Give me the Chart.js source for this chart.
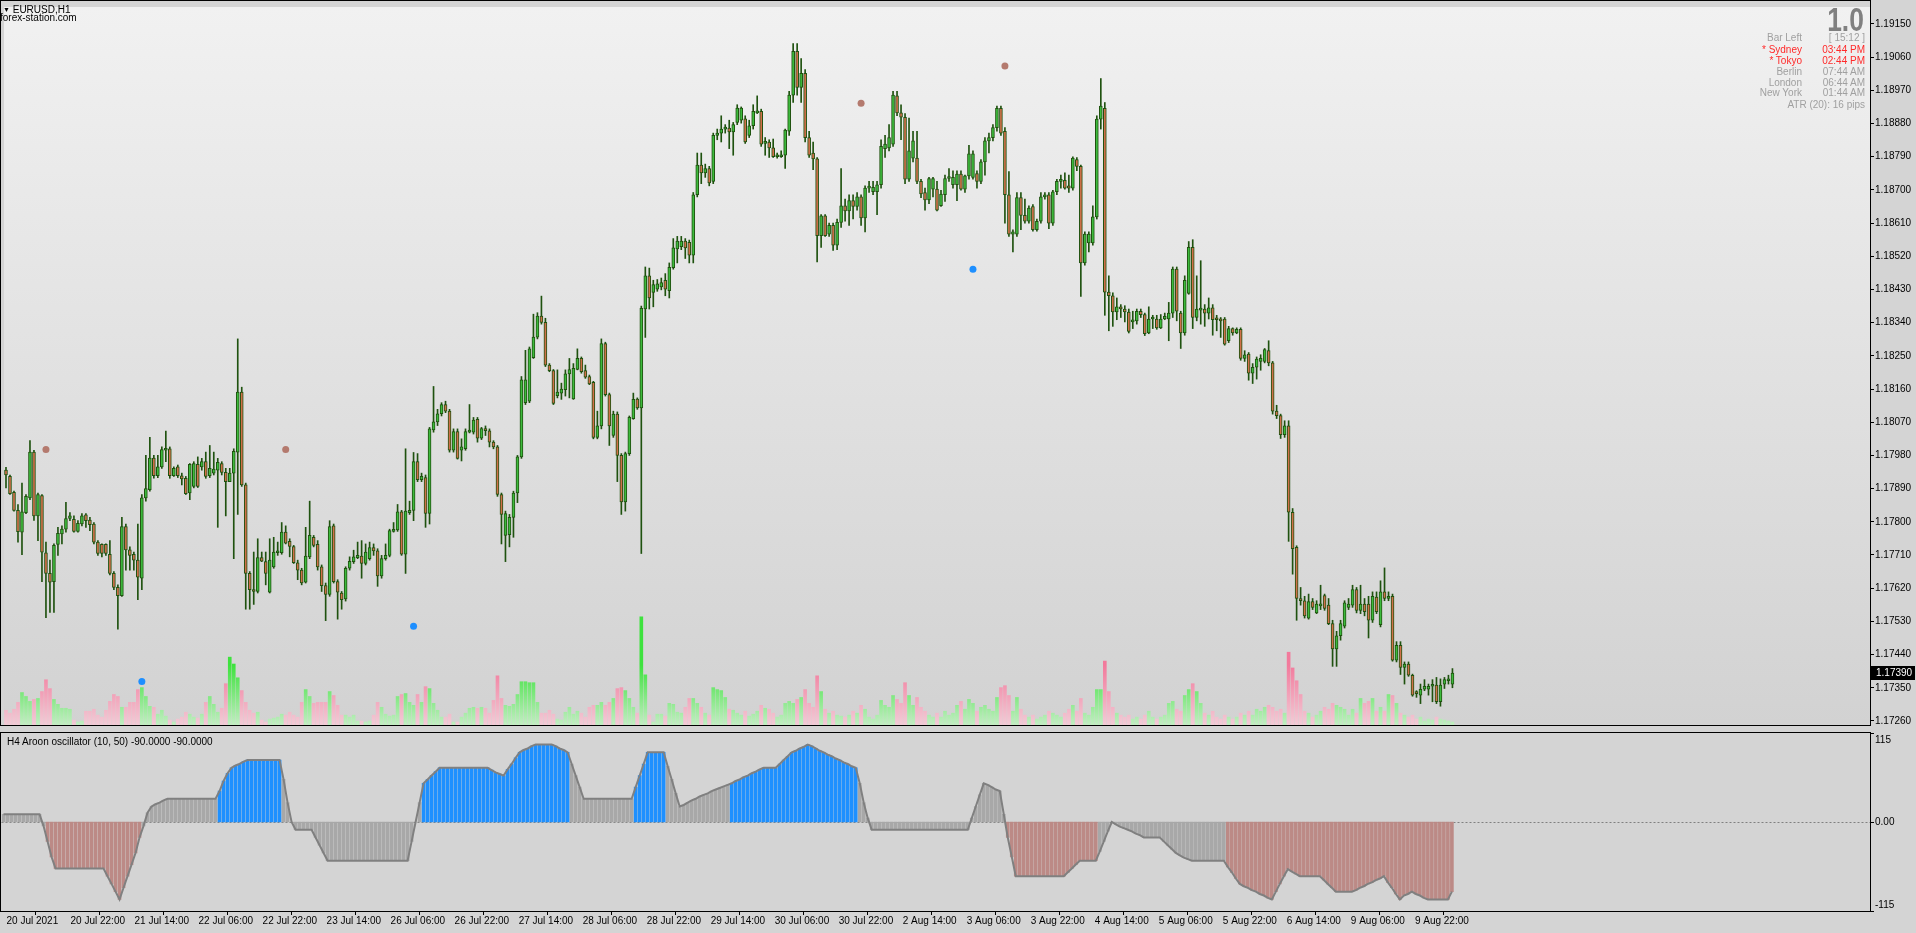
<!DOCTYPE html>
<html>
<head>
<meta charset="utf-8">
<title>EURUSD,H1</title>
<script src="https://cdn.jsdelivr.net/npm/chart.js@4.4.1/dist/chart.umd.min.js"></script>
<style>
  body { margin:0; width:1916px; height:933px; overflow:hidden; position:relative; background:#d4d4d4;
         font-family:"Liberation Sans", Arial, sans-serif; }
  canvas { position:absolute; left:0; }
  #main { top:0; }
  #osc { top:732px; }
  .t { position:absolute; font-size:10px; line-height:12px; white-space:nowrap; z-index:2; }
  .g { color:#a0a0a0; }
  .r { color:#ff2a2a; }
  .lab { right:114px; text-align:right; }
  .val { right:51px; text-align:right; }
</style>
</head>
<body>
<canvas id="main" width="1916" height="732"></canvas>
<canvas id="osc" width="1916" height="201"></canvas>

<div class="t" style="left:3px;top:4px;color:#000"><span style="font-size:7px;vertical-align:1px">&#9660;</span> EURUSD,H1</div>
<div class="t" style="left:0px;top:12px;color:#000">forex-station.com</div>

<div class="t" style="right:52px;top:3px;font-size:33px;line-height:33px;font-weight:bold;color:#808080;transform:scaleX(0.8);transform-origin:right">1.0</div>
<div class="t g lab" style="top:32px">Bar Left</div>
<div class="t g val" style="top:32px">[ 15:12 ]</div>
<div class="t r lab" style="top:44px">* Sydney</div>
<div class="t r val" style="top:44px">03:44 PM</div>
<div class="t r lab" style="top:55px">* Tokyo</div>
<div class="t r val" style="top:55px">02:44 PM</div>
<div class="t g lab" style="top:66px">Berlin</div>
<div class="t g val" style="top:66px">07:44 AM</div>
<div class="t g lab" style="top:77px">London</div>
<div class="t g val" style="top:77px">06:44 AM</div>
<div class="t g lab" style="top:87px">New York</div>
<div class="t g val" style="top:87px">01:44 AM</div>
<div class="t g val" style="top:99px">ATR (20): 16 pips</div>

<div class="t" style="left:7px;top:736px;color:#000">H4 Aroon oscillator (10, 50) -90.0000 -90.0000</div>

<script>
// EURUSD H1 bars, 20 Jul 2021 06:00 onwards
const opens = [
1.17940,1.17923,1.17880,1.17831,1.17772,1.17825,1.17865,1.17989,1.17816,1.17871,
1.17716,1.17660,1.17638,1.17739,1.17767,1.17780,1.17809,1.17807,1.17774,1.17794,
1.17819,1.17805,1.17794,1.17745,1.17739,1.17739,1.17712,1.17660,1.17622,1.17600,
1.17787,1.17724,1.17712,1.17696,1.17647,1.17865,1.17887,1.17973,1.17925,1.17949,
1.17994,1.17998,1.17925,1.17949,1.17925,1.17918,1.17878,1.17896,1.17956,1.17949,
1.17963,1.17925,1.17932,1.17940,1.17958,1.17934,1.17909,1.17932,1.17989,1.18152,
1.17900,1.17660,1.17616,1.17611,1.17703,1.17692,1.17609,1.17678,1.17716,1.17716,
1.17772,1.17747,1.17733,1.17689,1.17669,1.17636,1.17705,1.17758,1.17739,1.17678,
1.17627,1.17603,1.17789,1.17638,1.17607,1.17591,1.17674,1.17692,1.17703,1.17707,
1.17687,1.17700,1.17730,1.17721,1.17653,1.17700,1.17709,1.17774,1.17778,1.17827,
1.17712,1.17825,1.17831,1.17963,1.17914,1.17920,1.17823,1.18049,1.18071,1.18093,
1.18118,1.18100,1.17994,1.18045,1.17994,1.17998,1.18043,1.18043,1.18078,1.18027,
1.18053,1.18047,1.18016,1.18003,1.17874,1.17763,1.17765,1.17812,1.17878,1.17976,
1.18123,1.18127,1.18245,1.18301,1.18358,1.18341,1.18225,1.18210,1.18142,1.18149,
1.18158,1.18201,1.18133,1.18213,1.18243,1.18210,1.18194,1.18178,1.18029,1.18060,
1.18283,1.18145,1.18034,1.18092,1.17980,1.17854,1.17985,1.18080,1.18133,1.18109,
1.18377,1.18467,1.18422,1.18431,1.18437,1.18455,1.18427,1.18489,1.18540,1.18546,
1.18561,1.18558,1.18523,1.18687,1.18767,1.18746,1.18758,1.18723,1.18848,1.18854,
1.18865,1.18868,1.18857,1.18883,1.18889,1.18893,1.18848,1.18874,1.18909,1.18913,
1.18826,1.18830,1.18814,1.18790,1.18790,1.18794,1.18859,1.18957,1.19076,1.18978,
1.19016,1.18842,1.18800,1.18784,1.18576,1.18630,1.18580,1.18604,1.18550,1.18612,
1.18657,1.18643,1.18671,1.18655,1.18681,1.18624,1.18705,1.18695,1.18695,1.18714,
1.18812,1.18814,1.18824,1.18955,1.18909,1.18897,1.18729,1.18786,1.18786,1.18723,
1.18693,1.18673,1.18702,1.18702,1.18657,1.18687,1.18731,1.18714,1.18714,1.18743,
1.18702,1.18738,1.18734,1.18744,1.18723,1.18776,1.18833,1.18842,1.18869,1.18921,
1.18859,1.18687,1.18580,1.18580,1.18679,1.18631,1.18615,1.18655,1.18592,1.18615,
1.18681,1.18687,1.18610,1.18695,1.18723,1.18726,1.18711,1.18705,1.18782,1.18764,
1.18502,1.18556,1.18556,1.18627,1.18892,1.18921,1.18423,1.18413,1.18369,1.18383,
1.18377,1.18369,1.18342,1.18345,1.18371,1.18362,1.18312,1.18350,1.18350,1.18326,
1.18350,1.18350,1.18366,1.18485,1.18366,1.18312,1.18419,1.18544,1.18354,1.18374,
1.18377,1.18366,1.18380,1.18350,1.18350,1.18350,1.18291,1.18324,1.18312,1.18322,
1.18243,1.18255,1.18203,1.18219,1.18235,1.18235,1.18264,1.18231,1.18100,1.18088,
1.18036,1.18060,1.17826,1.17731,1.17592,1.17586,1.17539,1.17584,1.17553,1.17572,
1.17600,1.17574,1.17524,1.17455,1.17491,1.17517,1.17568,1.17574,1.17616,1.17560,
1.17577,1.17577,1.17533,1.17596,1.17521,1.17610,1.17592,1.17598,1.17425,1.17465,
1.17405,1.17414,1.17384,1.17339,1.17330,1.17346,1.17346,1.17354,1.17357,1.17312,
1.17360,1.17369,1.17360];

const highs = [
1.17948,1.17927,1.17883,1.17847,1.17905,1.17874,1.18020,1.17994,1.17878,1.17874,
1.17745,1.17696,1.17740,1.17785,1.17789,1.17853,1.17825,1.17816,1.17803,1.17822,
1.17822,1.17812,1.17798,1.17749,1.17740,1.17740,1.17749,1.17665,1.17629,1.17812,
1.17794,1.17732,1.17718,1.17794,1.17874,1.17980,1.18029,1.17980,1.17980,1.18003,
1.18046,1.18003,1.17949,1.17954,1.17932,1.17923,1.17958,1.17963,1.17976,1.17972,
1.17989,1.18007,1.17989,1.17972,1.17963,1.17945,1.17945,1.17998,1.18296,1.18165,
1.17905,1.17665,1.17718,1.17754,1.17718,1.17718,1.17754,1.17758,1.17745,1.17798,
1.17789,1.17754,1.17736,1.17696,1.17674,1.17785,1.17856,1.17763,1.17749,1.17683,
1.17634,1.17803,1.17794,1.17643,1.17611,1.17678,1.17705,1.17723,1.17745,1.17749,
1.17740,1.17745,1.17740,1.17727,1.17709,1.17740,1.17780,1.17798,1.17847,1.17831,
1.17998,1.17856,1.17988,1.17985,1.17932,1.17927,1.18056,1.18167,1.18105,1.18123,
1.18127,1.18105,1.18052,1.18052,1.18025,1.18052,1.18118,1.18083,1.18083,1.18056,
1.18060,1.18052,1.18020,1.18007,1.17878,1.17829,1.17820,1.17883,1.17980,1.18194,
1.18265,1.18274,1.18363,1.18367,1.18412,1.18352,1.18229,1.18213,1.18212,1.18176,
1.18212,1.18243,1.18229,1.18269,1.18247,1.18225,1.18198,1.18181,1.18100,1.18296,
1.18287,1.18149,1.18100,1.18098,1.17985,1.17989,1.18087,1.18149,1.18136,1.18385,
1.18491,1.18488,1.18455,1.18457,1.18461,1.18473,1.18502,1.18568,1.18574,1.18574,
1.18568,1.18564,1.18693,1.18800,1.18800,1.18770,1.18764,1.18854,1.18865,1.18901,
1.18877,1.18889,1.18883,1.18931,1.18925,1.18901,1.18889,1.18931,1.18955,1.18919,
1.18842,1.18836,1.18838,1.18800,1.18806,1.18865,1.18967,1.19097,1.19097,1.19056,
1.19026,1.18859,1.18830,1.18788,1.18633,1.18633,1.18610,1.18610,1.18621,1.18758,
1.18675,1.18687,1.18687,1.18693,1.18687,1.18711,1.18723,1.18723,1.18723,1.18836,
1.18848,1.18877,1.18967,1.18967,1.18931,1.18907,1.18895,1.18859,1.18859,1.18729,
1.18705,1.18734,1.18734,1.18723,1.18699,1.18740,1.18758,1.18752,1.18752,1.18752,
1.18740,1.18821,1.18806,1.18752,1.18782,1.18842,1.18854,1.18877,1.18927,1.18927,
1.18869,1.18750,1.18592,1.18693,1.18693,1.18675,1.18657,1.18660,1.18621,1.18693,
1.18693,1.18693,1.18699,1.18729,1.18740,1.18746,1.18740,1.18790,1.18788,1.18767,
1.18586,1.18586,1.18657,1.18901,1.19002,1.18937,1.18467,1.18421,1.18407,1.18389,
1.18386,1.18377,1.18371,1.18377,1.18377,1.18366,1.18383,1.18360,1.18360,1.18362,
1.18366,1.18395,1.18491,1.18491,1.18371,1.18467,1.18560,1.18565,1.18467,1.18508,
1.18389,1.18407,1.18389,1.18360,1.18354,1.18354,1.18330,1.18326,1.18326,1.18326,
1.18264,1.18259,1.18229,1.18247,1.18253,1.18270,1.18291,1.18235,1.18116,1.18092,
1.18074,1.18074,1.17836,1.17735,1.17622,1.17598,1.17604,1.17592,1.17586,1.17628,
1.17604,1.17592,1.17533,1.17503,1.17533,1.17586,1.17592,1.17628,1.17622,1.17628,
1.17592,1.17598,1.17610,1.17610,1.17640,1.17675,1.17610,1.17604,1.17475,1.17475,
1.17420,1.17420,1.17387,1.17342,1.17360,1.17372,1.17360,1.17372,1.17378,1.17374,
1.17378,1.17384,1.17402];

const lows = [
1.17892,1.17874,1.17829,1.17745,1.17711,1.17822,1.17860,1.17804,1.17749,1.17638,
1.17540,1.17554,1.17554,1.17709,1.17740,1.17772,1.17803,1.17772,1.17772,1.17789,
1.17785,1.17776,1.17740,1.17709,1.17705,1.17709,1.17656,1.17616,1.17509,1.17598,
1.17669,1.17669,1.17669,1.17589,1.17616,1.17856,1.17883,1.17918,1.17920,1.17945,
1.17963,1.17918,1.17923,1.17920,1.17900,1.17874,1.17860,1.17892,1.17893,1.17940,
1.17918,1.17920,1.17927,1.17785,1.17927,1.17816,1.17909,1.17700,1.17820,1.17896,
1.17563,1.17563,1.17576,1.17607,1.17692,1.17629,1.17607,1.17674,1.17709,1.17712,
1.17740,1.17705,1.17687,1.17643,1.17629,1.17634,1.17700,1.17732,1.17669,1.17611,
1.17532,1.17598,1.17634,1.17536,1.17563,1.17585,1.17669,1.17687,1.17700,1.17647,
1.17683,1.17696,1.17709,1.17625,1.17647,1.17696,1.17705,1.17772,1.17774,1.17709,
1.17660,1.17820,1.17803,1.17909,1.17909,1.17785,1.17794,1.18043,1.18061,1.18087,
1.18096,1.17989,1.17989,1.17970,1.17965,1.17994,1.18041,1.18038,1.18016,1.18023,
1.18034,1.18003,1.17998,1.17869,1.17740,1.17692,1.17732,1.17758,1.17852,1.17972,
1.18118,1.18123,1.18243,1.18296,1.18336,1.18221,1.18207,1.18118,1.18136,1.18132,
1.18141,1.18136,1.18132,1.18212,1.18203,1.18189,1.18172,1.18025,1.18025,1.18052,
1.18141,1.18007,1.18029,1.17909,1.17820,1.17829,1.17980,1.18078,1.18105,1.17714,
1.18300,1.18377,1.18383,1.18425,1.18429,1.18413,1.18407,1.18485,1.18502,1.18538,
1.18514,1.18502,1.18502,1.18681,1.18717,1.18734,1.18711,1.18717,1.18836,1.18830,
1.18854,1.18812,1.18794,1.18877,1.18881,1.18826,1.18842,1.18865,1.18907,1.18818,
1.18794,1.18788,1.18788,1.18786,1.18788,1.18758,1.18848,1.18937,1.18957,1.18937,
1.18830,1.18788,1.18755,1.18505,1.18544,1.18574,1.18574,1.18536,1.18538,1.18598,
1.18615,1.18604,1.18621,1.18645,1.18604,1.18586,1.18693,1.18687,1.18633,1.18705,
1.18788,1.18806,1.18818,1.18901,1.18836,1.18717,1.18723,1.18776,1.18717,1.18679,
1.18645,1.18663,1.18681,1.18643,1.18655,1.18669,1.18723,1.18705,1.18671,1.18699,
1.18693,1.18729,1.18729,1.18705,1.18717,1.18740,1.18800,1.18833,1.18859,1.18848,
1.18610,1.18574,1.18532,1.18574,1.18592,1.18610,1.18610,1.18588,1.18588,1.18610,
1.18675,1.18595,1.18604,1.18687,1.18705,1.18702,1.18693,1.18699,1.18752,1.18411,
1.18496,1.18532,1.18550,1.18621,1.18865,1.18360,1.18318,1.18330,1.18348,1.18354,
1.18342,1.18312,1.18324,1.18336,1.18354,1.18305,1.18310,1.18324,1.18322,1.18324,
1.18348,1.18291,1.18354,1.18345,1.18270,1.18306,1.18417,1.18324,1.18345,1.18336,
1.18330,1.18350,1.18306,1.18318,1.18300,1.18279,1.18286,1.18306,1.18310,1.18238,
1.18235,1.18184,1.18175,1.18187,1.18211,1.18231,1.18223,1.18092,1.18080,1.18026,
1.18029,1.17747,1.17658,1.17533,1.17574,1.17539,1.17536,1.17562,1.17551,1.17562,
1.17560,1.17521,1.17408,1.17408,1.17479,1.17512,1.17562,1.17568,1.17553,1.17551,
1.17545,1.17485,1.17527,1.17551,1.17515,1.17586,1.17586,1.17422,1.17420,1.17386,
1.17360,1.17381,1.17327,1.17324,1.17307,1.17342,1.17330,1.17312,1.17307,1.17300,
1.17348,1.17360,1.17350];

const closes = [
1.17927,1.17876,1.17831,1.17773,1.17827,1.17869,1.17989,1.17816,1.17874,1.17718,
1.17660,1.17636,1.17736,1.17769,1.17780,1.17809,1.17816,1.17774,1.17796,1.17816,
1.17803,1.17792,1.17745,1.17714,1.17714,1.17714,1.17660,1.17622,1.17600,1.17787,
1.17724,1.17709,1.17696,1.17650,1.17865,1.17890,1.17973,1.17925,1.17949,1.17996,
1.17998,1.17925,1.17945,1.17925,1.17916,1.17876,1.17956,1.17958,1.17896,1.17963,
1.17923,1.17945,1.17943,1.17961,1.17934,1.17909,1.17932,1.17991,1.18152,1.17900,
1.17660,1.17616,1.17611,1.17703,1.17693,1.17660,1.17696,1.17718,1.17718,1.17772,
1.17742,1.17733,1.17689,1.17669,1.17634,1.17707,1.17763,1.17736,1.17678,1.17627,
1.17603,1.17787,1.17638,1.17609,1.17589,1.17674,1.17693,1.17705,1.17709,1.17687,
1.17718,1.17730,1.17721,1.17653,1.17700,1.17709,1.17776,1.17778,1.17827,1.17712,
1.17829,1.17831,1.17963,1.17914,1.17923,1.17823,1.18052,1.18071,1.18093,1.18118,
1.18100,1.17994,1.18045,1.17972,1.18003,1.18045,1.18045,1.18076,1.18027,1.18053,
1.18047,1.18016,1.18003,1.17874,1.17820,1.17822,1.17812,1.17878,1.17976,1.18185,
1.18185,1.18269,1.18301,1.18358,1.18341,1.18225,1.18210,1.18121,1.18152,1.18160,
1.18201,1.18213,1.18216,1.18243,1.18207,1.18192,1.18174,1.18029,1.18060,1.18283,
1.18145,1.18060,1.18092,1.17980,1.17854,1.17985,1.18083,1.18132,1.18109,1.18379,
1.18467,1.18407,1.18443,1.18445,1.18449,1.18431,1.18490,1.18543,1.18561,1.18561,
1.18543,1.18523,1.18687,1.18767,1.18746,1.18758,1.18719,1.18848,1.18854,1.18865,
1.18868,1.18857,1.18877,1.18922,1.18922,1.18830,1.18874,1.18913,1.18913,1.18824,
1.18830,1.18814,1.18790,1.18793,1.18794,1.18862,1.18957,1.19076,1.18978,1.19016,
1.18842,1.18794,1.18784,1.18576,1.18630,1.18576,1.18604,1.18550,1.18612,1.18657,
1.18643,1.18671,1.18655,1.18681,1.18624,1.18705,1.18707,1.18707,1.18714,1.18818,
1.18824,1.18842,1.18957,1.18909,1.18897,1.18729,1.18806,1.18833,1.18723,1.18689,
1.18673,1.18731,1.18731,1.18645,1.18689,1.18731,1.18734,1.18734,1.18743,1.18702,
1.18738,1.18798,1.18798,1.18723,1.18776,1.18833,1.18842,1.18869,1.18921,1.18854,
1.18687,1.18580,1.18586,1.18679,1.18631,1.18615,1.18651,1.18592,1.18615,1.18681,
1.18687,1.18610,1.18695,1.18723,1.18726,1.18705,1.18705,1.18786,1.18764,1.18502,
1.18580,1.18580,1.18627,1.18892,1.18927,1.18423,1.18413,1.18369,1.18383,1.18377,
1.18369,1.18316,1.18345,1.18371,1.18362,1.18310,1.18350,1.18354,1.18326,1.18350,
1.18357,1.18366,1.18485,1.18371,1.18312,1.18455,1.18544,1.18354,1.18377,1.18377,
1.18366,1.18380,1.18348,1.18348,1.18345,1.18282,1.18324,1.18312,1.18322,1.18243,
1.18253,1.18203,1.18219,1.18241,1.18243,1.18267,1.18231,1.18100,1.18088,1.18036,
1.18060,1.17826,1.17727,1.17592,1.17586,1.17545,1.17584,1.17568,1.17577,1.17577,
1.17565,1.17524,1.17455,1.17491,1.17524,1.17580,1.17577,1.17616,1.17560,1.17577,
1.17556,1.17533,1.17598,1.17556,1.17610,1.17592,1.17598,1.17425,1.17465,1.17405,
1.17414,1.17384,1.17330,1.17334,1.17346,1.17354,1.17354,1.17357,1.17312,1.17357,
1.17372,1.17372,1.17390];

// tick volume (scaled)
const volumes = [
15,12,16,23,33,29,24,26,27,34, 46,37,26,21,17,17,16,5,3,4,
14,14,16,10,8,15,24,31,29,18, 18,23,23,36,38,29,19,18,11,15,
9,5,3,6,8,13,11,8,7,11, 23,29,21,13,17,42,69,62,48,35,
23,15,12,13,5,3,6,7,8,11, 10,13,10,8,23,36,29,22,23,23,
23,34,30,20,10,10,8,10,4,4, 3,4,10,23,18,11,9,10,29,31,
32,23,20,31,23,39,37,22,15,8, 8,11,3,3,8,12,17,18,17,18,
17,12,25,50,27,20,19,21,31,44, 44,43,43,23,12,12,15,11,6,5,
13,18,11,14,12,8,18,20,20,23, 20,23,27,37,38,35,27,18,12,110,
51,10,3,11,11,9,22,21,13,12, 18,27,27,22,18,12,10,38,36,35,
28,16,15,12,10,14,9,11,14,20, 17,16,12,8,10,22,24,22,26,28,
36,22,18,50,34,16,12,14,10,9, 8,10,14,12,20,16,8,6,10,25,
20,18,30,26,22,43,30,20,28,18, 14,10,8,12,8,14,10,12,20,24,
16,26,22,14,18,20,16,14,28,38, 40,30,14,28,16,10,8,10,6,8,
10,14,12,10,8,12,16,20,14,27, 12,10,18,36,36,65,34,18,12,10,
8,10,6,8,6,10,14,8,6,8, 10,22,24,16,14,30,36,42,34,22,
12,10,14,8,6,10,8,6,8,12, 10,14,10,16,14,18,20,18,14,16,
12,74,58,45,31,14,12,8,10,14, 18,16,22,20,18,16,10,16,12,27,
22,24,27,14,18,14,31,30,22,12, 10,8,10,6,8,4,6,5,8,6,
5,4,3];

// H4 Aroon oscillator (10, 50) on H1 bars
const aroon = [
10,10,10,10,10,10,10,10,10,10, -5,-25,-45,-60,-60,-60,-60,-60,-60,-60,
-60,-60,-60,-60,-60,-60,-70,-80,-90,-100, -85,-70,-55,-40,-20,-5,12,20,23,25,
28,30,30,30,30,30,30,30,30,30, 30,30,30,30,40,53,63,70,73,75,
78,80,80,80,80,80,80,80,80,80, 55,25,0,-10,-10,-10,-10,-10,-20,-30,
-40,-50,-50,-50,-50,-50,-50,-50,-50,-50, -50,-50,-50,-50,-50,-50,-50,-50,-50,-50,
-50,-50,-25,0,25,50,55,60,65,70, 70,70,70,70,70,70,70,70,70,70,
70,70,67,64,62,60,68,75,83,90, 93,95,98,100,100,100,100,100,98,95,
93,90,75,60,45,30,30,30,30,30, 30,30,30,30,30,30,30,30,45,60,
75,90,90,90,90,90,72,55,37,20, 22,25,28,30,33,35,37,40,42,44,
46,48,50,53,55,58,60,63,65,68, 70,70,70,70,75,80,85,90,92,95,
97,100,98,95,92,90,87,85,82,80, 77,75,72,70,50,25,5,-10,-10,-10,
-10,-10,-10,-10,-10,-10,-10,-10,-10,-10, -10,-10,-10,-10,-10,-10,-10,-10,-10,-10,
-10,-10,5,20,35,50,48,45,42,40, 10,-20,-45,-70,-70,-70,-70,-70,-70,-70,
-70,-70,-70,-70,-70,-70,-65,-60,-55,-50, -50,-50,-50,-50,-38,-25,-12,0,-3,-6,
-8,-10,-12,-15,-17,-20,-20,-20,-20,-20, -25,-30,-35,-40,-43,-46,-48,-50,-50,-50,
-50,-50,-50,-50,-50,-50,-58,-65,-73,-80, -83,-85,-88,-90,-93,-95,-98,-100,-90,-80,
-70,-61,-64,-67,-70,-70,-70,-70,-70,-70, -75,-80,-85,-90,-90,-90,-90,-90,-88,-85,
-83,-80,-78,-75,-73,-70,-78,-85,-93,-100, -95,-93,-90,-93,-95,-98,-100,-100,-100,-100,
-100,-100,-90];
const aroonUpRanges = [[54, 69], [105, 141], [158, 165], [182, 213]];
const aroonDownRanges = [[11, 34], [251, 273], [306, 362]];

// fractal dots [bar, price]
const upperDots = [[10, 1.17996], [70, 1.17996], [214, 1.18935], [250, 1.19036]];
const lowerDots = [[34, 1.17367], [102, 1.17517], [242, 1.18485]];

const priceTicks = [1.17260,1.17350,1.17440,1.17530,1.17620,1.17710,1.17800,1.17890,1.17980,1.18070,1.18160,
  1.18250,1.18340,1.18430,1.18520,1.18610,1.18700,1.18790,1.18880,1.18970,1.19060,1.19150];
const oscTicks = [115, 0, -115];
const oscTickLabels = ['115', '0.00', '-115'];
const timeTickIdx = [0,16,32,48,64,80,96,112,128,144,160,176,192,208,224,240,256,272,288,304,320,336,352];
const timeLabels = ['20 Jul 2021','20 Jul 22:00','21 Jul 14:00','22 Jul 06:00','22 Jul 22:00','23 Jul 14:00',
  '26 Jul 06:00','26 Jul 22:00','27 Jul 14:00','28 Jul 06:00','28 Jul 22:00','29 Jul 14:00','30 Jul 06:00',
  '30 Jul 22:00','2 Aug 14:00','3 Aug 06:00','3 Aug 22:00','4 Aug 14:00','5 Aug 06:00','5 Aug 22:00',
  '6 Aug 14:00','9 Aug 06:00','9 Aug 22:00'];

const totalSlots = 467;
const FONT = '"Liberation Sans", Arial, sans-serif';
Chart.defaults.font.family = FONT;
Chart.defaults.font.size = 10;
Chart.defaults.color = '#000';

const edge = '#1f520f';
const bullFill = '#3dba3d';
const bearFill = '#d0704a';

let wickData = [], bodyData = [], bodyColors = [], volData = [];
for (let i = 0; i < closes.length; i++) {
  wickData.push({x: i, y: [lows[i], highs[i]]});
  bodyData.push({x: i, y: [Math.min(opens[i], closes[i]), Math.max(opens[i], closes[i])]});
  bodyColors.push(closes[i] >= opens[i] ? bullFill : bearFill);
  volData.push({x: i, y: volumes[i]});
}

function volColor(c) {
  const chart = c.chart;
  const a = chart.chartArea;
  const up = closes[c.dataIndex] >= opens[c.dataIndex];
  if (!a) return up ? '#40e040' : '#f07898';
  const g = chart.ctx.createLinearGradient(0, a.bottom - 60, 0, a.bottom);
  if (up) { g.addColorStop(0, '#3ee23e'); g.addColorStop(1, '#c2eec2'); }
  else { g.addColorStop(0, '#f27a9c'); g.addColorStop(1, '#f2cbd6'); }
  return g;
}

const mainDecor = {
  id: 'mainDecor',
  beforeDraw(chart) {
    const {ctx, chartArea: a, width, height} = chart;
    ctx.save();
    ctx.fillStyle = '#d4d4d4';
    ctx.fillRect(0, 0, width, height);
    const g = ctx.createLinearGradient(0, a.top, 0, a.bottom);
    g.addColorStop(0, '#f1f1f1');
    g.addColorStop(1, '#d2d2d2');
    ctx.fillStyle = g;
    ctx.fillRect(a.left, a.top, a.right - a.left, a.bottom - a.top);
    ctx.restore();
  },
  afterDraw(chart) {
    const {ctx, chartArea: a} = chart;
    ctx.save();
    ctx.strokeStyle = '#000';
    ctx.lineWidth = 1;
    ctx.strokeRect(0.5, 0.5, Math.round(a.right), Math.round(a.bottom));
    const last = closes[closes.length - 1];
    const y = Math.round(chart.scales.y.getPixelForValue(last));
    ctx.fillStyle = '#000';
    ctx.fillRect(Math.round(a.right) + 1, y - 7, 44, 14);
    ctx.fillStyle = '#fff';
    ctx.font = '10px ' + FONT;
    ctx.textBaseline = 'middle';
    ctx.fillText(last.toFixed(5), Math.round(a.right) + 6, y + 0.5);
    ctx.restore();
  }
};

new Chart(document.getElementById('main'), {
  type: 'bar',
  data: {
    datasets: [
      { type: 'scatter', yAxisID: 'y', data: upperDots.map(d => ({x: d[0], y: d[1]})), pointRadius: 3.5,
        pointBackgroundColor: '#b47a6e', pointBorderWidth: 0, order: 0 },
      { type: 'scatter', yAxisID: 'y', data: lowerDots.map(d => ({x: d[0], y: d[1]})), pointRadius: 3.5,
        pointBackgroundColor: '#1e8fff', pointBorderWidth: 0, order: 0 },
      { yAxisID: 'y', data: bodyData, backgroundColor: bodyColors, borderColor: edge, borderWidth: 1,
        borderSkipped: false, barThickness: 3, minBarLength: 2, grouped: false, order: 1 },
      { yAxisID: 'y', data: wickData, backgroundColor: edge, barThickness: 1, grouped: false, order: 2 },
      { yAxisID: 'v', data: volData, backgroundColor: volColor, barThickness: 3, grouped: false, order: 3 }
    ]
  },
  options: {
    responsive: false,
    animation: false,
    devicePixelRatio: 1,
    layout: { padding: { left: 1.5, top: 1, bottom: 1, right: 0 } },
    plugins: { legend: { display: false }, tooltip: { enabled: false } },
    scales: {
      x: { type: 'linear', min: -0.5, max: totalSlots - 0.5, offset: false, display: false },
      y: {
        type: 'linear', position: 'right', min: 1.17249, max: 1.19196,
        afterFit: s => { s.width = 46; },
        afterBuildTicks: s => { s.ticks = priceTicks.map(v => ({value: v})); },
        ticks: { callback: v => v.toFixed(5), padding: 1, color: '#000', font: { size: 10 } },
        grid: { drawOnChartArea: false, drawTicks: true, tickLength: 4, color: '#000' },
        border: { display: false }
      },
      v: { type: 'linear', min: 0, max: 730, display: false }
    }
  },
  plugins: [mainDecor]
});

// oscillator panel
const aroonBars = aroon.map((v, i) => ({x: i, y: v}));
function aroonColor(i) {
  for (const r of aroonUpRanges) if (i >= r[0] && i <= r[1]) return '#1e90ff';
  for (const r of aroonDownRanges) if (i >= r[0] && i <= r[1]) return '#bc8a86';
  return '#a8a8a8';
}

const oscDecor = {
  id: 'oscDecor',
  beforeDraw(chart) {
    const {ctx, width, height} = chart;
    ctx.save();
    ctx.fillStyle = '#d4d4d4';
    ctx.fillRect(0, 0, width, height);
    ctx.restore();
  },
  beforeDatasetsDraw(chart) {
    const {ctx, chartArea: a} = chart;
    const y0 = Math.round(chart.scales.y.getPixelForValue(0)) + 0.5;
    ctx.save();
    ctx.strokeStyle = '#808080';
    ctx.setLineDash([2, 2]);
    ctx.beginPath();
    ctx.moveTo(a.left, y0);
    ctx.lineTo(a.right, y0);
    ctx.stroke();
    ctx.restore();
  },
  afterDraw(chart) {
    const {ctx, chartArea: a} = chart;
    const ys = chart.scales.y;
    ctx.save();
    ctx.strokeStyle = '#000';
    ctx.lineWidth = 1;
    ctx.strokeRect(0.5, Math.round(a.top) - 0.5, Math.round(a.right), Math.round(a.bottom - a.top) + 1);
    ctx.font = '10px ' + FONT;
    ctx.fillStyle = '#000';
    ctx.textBaseline = 'middle';
    oscTicks.forEach((v, k) => {
      const y = Math.round(ys.getPixelForValue(v));
      ctx.fillRect(Math.round(a.right) + 1, y, 3, 1);
      const dy = k === 0 ? 7 : (k === oscTicks.length - 1 ? -6 : 0);
      ctx.fillText(oscTickLabels[k], Math.round(a.right) + 5, y + dy);
    });
    ctx.restore();
  }
};

new Chart(document.getElementById('osc'), {
  type: 'bar',
  data: {
    datasets: [
      { type: 'line', data: aroonBars, borderColor: '#808080', borderWidth: 2, pointRadius: 0,
        tension: 0, fill: false, order: 0 },
      { data: aroonBars, backgroundColor: aroonBars.map((d, i) => aroonColor(i)), barThickness: 3,
        grouped: false, order: 1 }
    ]
  },
  options: {
    responsive: false,
    animation: false,
    devicePixelRatio: 1,
    layout: { padding: { left: 1.5, top: 1, bottom: 0, right: 46 } },
    plugins: { legend: { display: false }, tooltip: { enabled: false } },
    scales: {
      x: {
        type: 'linear', min: -0.5, max: totalSlots - 0.5, offset: false, position: 'bottom',
        afterFit: s => { s.height = 22; },
        afterBuildTicks: s => { s.ticks = timeTickIdx.map(v => ({value: v})); },
        ticks: { autoSkip: false, maxRotation: 0, align: 'start', labelOffset: 3, padding: 0,
                 color: '#000', font: { size: 10 }, callback: (v, i) => timeLabels[i] },
        grid: { drawOnChartArea: false, drawTicks: true, tickLength: 4, color: '#000' },
        border: { display: false }
      },
      y: { type: 'linear', min: -115, max: 115, display: false }
    }
  },
  plugins: [oscDecor]
});
</script>
</body>
</html>
